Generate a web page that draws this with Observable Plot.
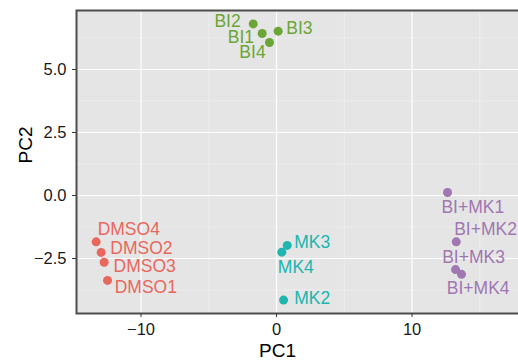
<!DOCTYPE html>
<html>
<head>
<meta charset="utf-8">
<script src="https://cdn.jsdelivr.net/npm/d3@7"></script>
<script src="https://cdn.jsdelivr.net/npm/@observablehq/plot@0.6"></script>
<style>
  html, body { margin: 0; padding: 0; background: #fff; }
  #chart svg { display: block; }
</style>
</head>
<body>
<div id="chart"></div>
<script>
// ---- data ----
const samples = ["DMSO1","DMSO2","DMSO3","DMSO4","BI1","BI2","BI3","BI4","MK2","MK3","MK4","BI+MK1","BI+MK2","BI+MK3","BI+MK4"];
const groups  = ["DMSO","DMSO","DMSO","DMSO","BI","BI","BI","BI","MK","MK","MK","BI+MK","BI+MK","BI+MK","BI+MK"];
const pc1 = [-12.47,-12.94,-12.72,-13.31,-1.06,-1.72,0.12,-0.52,0.52,0.79,0.39,12.62,13.26,13.21,13.65];
const pc2 = [-3.37,-2.26,-2.65,-1.84,6.43,6.81,6.52,6.07,-4.15,-1.98,-2.25,0.12,-1.84,-2.94,-3.13];
const groupNames = ["DMSO","BI","MK","BI+MK"];
const xTicks = [-10, 0, 10];
const xMinor = [-5, 5, 15];
const yTicks = [-2.5, 0, 2.5, 5];
const yMinor = [-3.75, -1.25, 1.25, 3.75, 6.25];

// ---- styling (label repel offsets in px, colours) ----
const groupColors = ["#E8685E", "#6BA536", "#20B5AE", "#A077B1"];
const labelOffsets = [
  [38.3, 6.7], [40.3, -4.3], [40.5, 4], [32.6, -12.3],
  [-21.2, 3.5], [-25.7, -2.2], [21.3, -3], [-17, 10.3],
  [28.7, -1.4], [25, -2.7], [14, 15.6],
  [25.2, 14.7], [29.3, -12.3], [18, -12.3], [16.7, 14.3]
];

const rows = samples.map((s, i) => ({sample: s, group: groups[i], pc1: pc1[i], pc2: pc2[i]}));

const font = "'Liberation Sans', Arial, sans-serif";

const labelMarks = rows.map((d, i) => Plot.text([d], {
  x: "pc1", y: "pc2", text: "sample", fill: "group",
  dx: labelOffsets[i][0], dy: labelOffsets[i][1],
  fontSize: 17.5, textAnchor: "middle", lineAnchor: "middle"
}));

const chart = Plot.plot({
  width: 518,
  height: 362,
  marginLeft: 76,
  marginRight: -4,
  marginTop: 10,
  marginBottom: 49,
  style: {fontFamily: font, background: "#fff", overflow: "visible"},
  x: {domain: [-14.76, 18.15], label: null},
  y: {domain: [-4.683, 7.341], label: null},
  color: {domain: groupNames, range: groupColors},
  marks: [
    Plot.frame({fill: "#E5E5E5", stroke: null}),
    Plot.gridX(xMinor, {stroke: "#F2F2F2", strokeOpacity: 1, strokeWidth: 0.6}),
    Plot.gridY(yMinor, {stroke: "#F2F2F2", strokeOpacity: 1, strokeWidth: 0.6}),
    Plot.gridX(xTicks, {stroke: "#fff", strokeOpacity: 1, strokeWidth: 1.2}),
    Plot.gridY(yTicks, {stroke: "#fff", strokeOpacity: 1, strokeWidth: 1.2}),
    Plot.frame({stroke: "#4D4D4D", strokeWidth: 2}),
    Plot.axisX(xTicks, {tickSize: 4, tickPadding: 6, fontSize: 16.5, fill: "#1a1a1a", stroke: "#333", label: null, tickFormat: d3.format("d")}),
    Plot.axisY(yTicks, {tickSize: 4, tickPadding: 6, fontSize: 16.5, fill: "#1a1a1a", stroke: "#333", label: null, tickFormat: d3.format(".1f")}),
    Plot.dot(rows, {x: "pc1", y: "pc2", fill: "group", r: 4.5}),
    ...labelMarks,
    Plot.text(["PC1"], {frameAnchor: "bottom", dx: -22, dy: 37, fontSize: 19, fill: "#000", lineAnchor: "middle"}),
    Plot.text(["PC2"], {frameAnchor: "left", dx: -51, dy: 1.5, rotate: -90, fontSize: 19, fill: "#000", lineAnchor: "middle"})
  ]
});
document.getElementById("chart").appendChild(chart);
</script>
</body>
</html>
